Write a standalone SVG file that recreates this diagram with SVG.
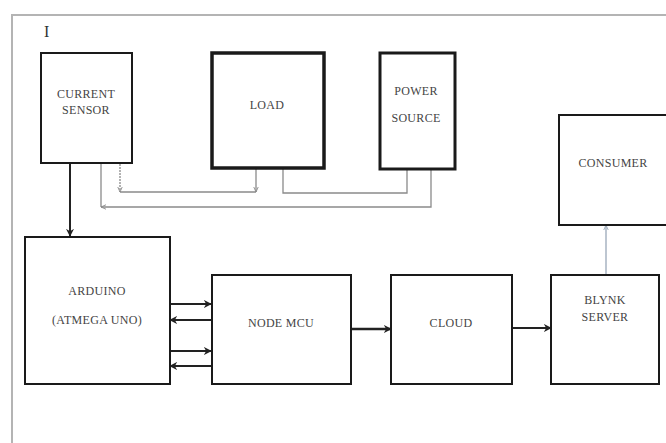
<svg xmlns="http://www.w3.org/2000/svg" width="666" height="443" viewBox="0 0 666 443">
<defs>
<style>
.box{fill:#fff;stroke:#1a1a1a;stroke-width:2}
.thick{stroke-width:3.5}
.lbl{font-family:"Liberation Serif","Times New Roman",serif;font-size:12px;letter-spacing:0.3px;fill:#444;text-anchor:middle}
.conn{fill:none;stroke:#222;stroke-width:2}
.wire{fill:none;stroke:#8a8a8a;stroke-width:1.3}
.frame{fill:none;stroke:#b4b4b4;stroke-width:2}
</style>
<marker id="ah" viewBox="0 0 10 10" refX="9" refY="5" markerWidth="8" markerHeight="8" orient="auto" markerUnits="userSpaceOnUse">
<path d="M0,0 L10,5 L0,10 L3,5 z" fill="#222"/>
</marker>
<marker id="ahs" viewBox="0 0 10 10" refX="9" refY="5" markerWidth="6" markerHeight="6" orient="auto" markerUnits="userSpaceOnUse">
<path d="M0,1 L9,5 L0,9" fill="none" stroke="#8a8a8a" stroke-width="1.5"/>
</marker>
<marker id="ahb" viewBox="0 0 10 10" refX="9" refY="5" markerWidth="6" markerHeight="6" orient="auto" markerUnits="userSpaceOnUse">
<path d="M0,1 L9,5 L0,9" fill="none" stroke="#9aa8b8" stroke-width="1.5"/>
</marker>
</defs>
<rect width="666" height="443" fill="#fff"/>
<path class="frame" d="M12,443 V15 H666"/>
<text x="44" y="37" style="font-family:'Liberation Serif',serif;font-size:16px;fill:#333">I</text>

<g id="connectors">
<line class="conn" x1="70" y1="164" x2="70" y2="236" marker-end="url(#ah)"/>
<line class="conn" x1="170" y1="304" x2="211" y2="304" marker-end="url(#ah)"/>
<line class="conn" x1="211" y1="320" x2="170" y2="320" marker-end="url(#ah)"/>
<line class="conn" x1="170" y1="351" x2="211" y2="351" marker-end="url(#ah)"/>
<line class="conn" x1="211" y1="366" x2="170" y2="366" marker-end="url(#ah)"/>
<line class="conn" x1="351" y1="329" x2="391" y2="329" marker-end="url(#ah)" style="stroke-width:2.5"/>
<line class="conn" x1="512" y1="328" x2="551" y2="328" marker-end="url(#ah)"/>
<line x1="606" y1="275" x2="606" y2="225" stroke="#9aa8b8" stroke-width="1.3" marker-end="url(#ahb)"/>
<path class="wire" d="M120,164 V192" stroke-dasharray="2,1" marker-end="url(#ahs)"/>
<path class="wire" d="M120,192 H256"/>
<path class="wire" d="M256,169 V192" marker-end="url(#ahs)"/>
<path class="wire" d="M283,169 V193 H407 V169"/>
<path class="wire" d="M431,169 V207 H101" marker-end="url(#ahs)"/>
<path class="wire" d="M101,207 V164"/>
</g>

<g id="current-sensor">
<rect class="box" x="41" y="53" width="91" height="110"/>
<text class="lbl" x="86" y="98">CURRENT</text>
<text class="lbl" x="86" y="114">SENSOR</text>
</g>
<g id="load">
<rect class="box thick" x="212" y="53" width="112" height="115"/>
<text class="lbl" x="267" y="109">LOAD</text>
</g>
<g id="power-source">
<rect class="box" style="stroke-width:3" x="380" y="53" width="75" height="116"/>
<text class="lbl" x="416" y="95">POWER</text>
<text class="lbl" x="416" y="122">SOURCE</text>
</g>
<g id="consumer">
<rect class="box" x="559" y="115" width="112" height="110"/>
<text class="lbl" x="613" y="167">CONSUMER</text>
</g>
<g id="arduino">
<rect class="box" x="25" y="237" width="145" height="147"/>
<text class="lbl" x="97" y="295">ARDUINO</text>
<text class="lbl" x="97" y="324">(ATMEGA UNO)</text>
</g>
<g id="node-mcu">
<rect class="box" x="212" y="275" width="139" height="109"/>
<text class="lbl" x="281" y="327">NODE MCU</text>
</g>
<g id="cloud">
<rect class="box" x="391" y="275" width="121" height="109"/>
<text class="lbl" x="451" y="327">CLOUD</text>
</g>
<g id="blynk-server">
<rect class="box" x="551" y="275" width="108" height="109"/>
<text class="lbl" x="605" y="304">BLYNK</text>
<text class="lbl" x="605" y="321">SERVER</text>
</g>
</svg>
